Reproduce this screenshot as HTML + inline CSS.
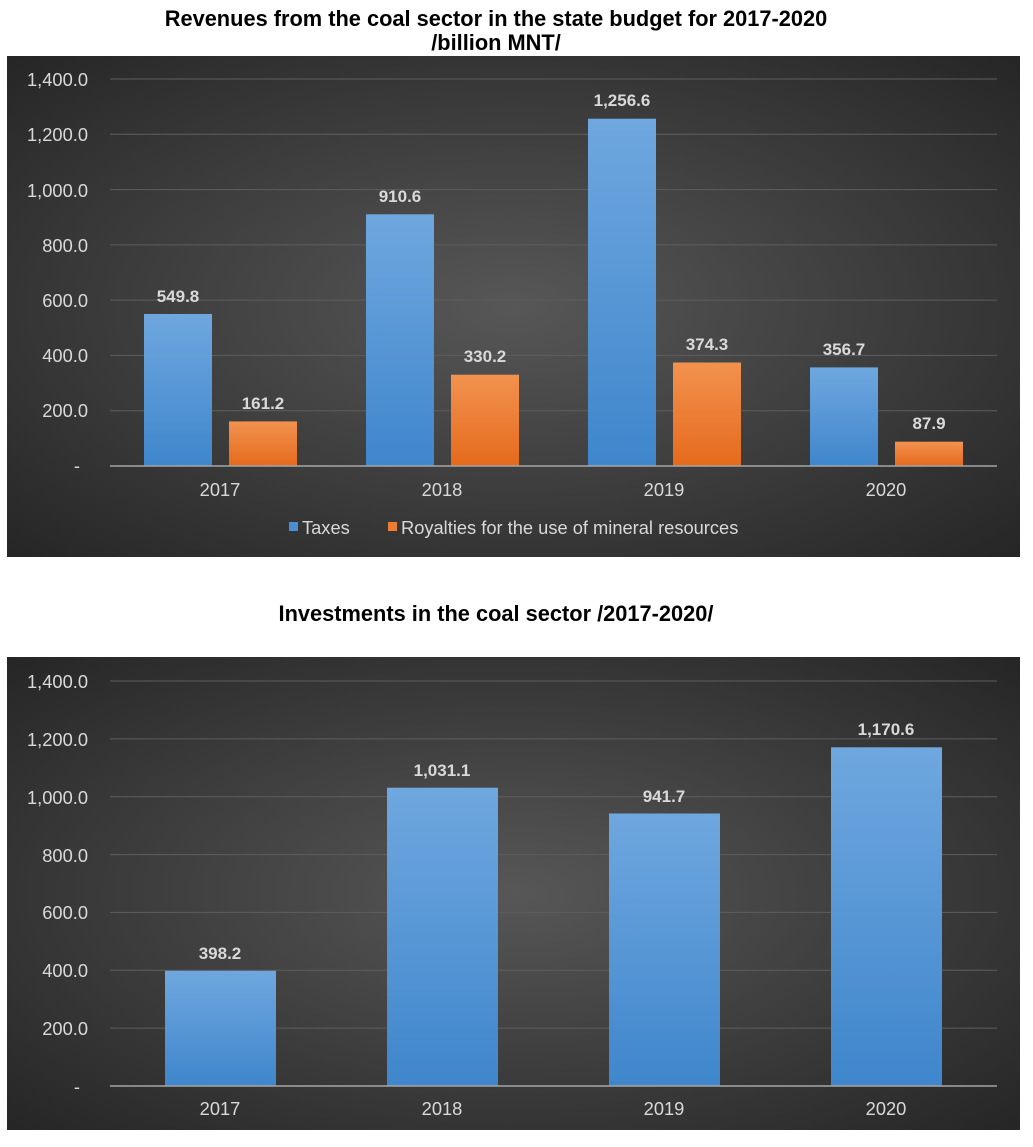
<!DOCTYPE html>
<html><head><meta charset="utf-8"><style>
html,body{margin:0;padding:0;background:#fff;}
svg{display:block;font-family:"Liberation Sans",Arial,sans-serif;}
</style></head><body>
<svg width="1033" height="1147" viewBox="0 0 1033 1147" xmlns="http://www.w3.org/2000/svg">
<defs>
<radialGradient id="bg" cx="0.5" cy="0.5" r="0.7">
<stop offset="0" stop-color="#575757"/><stop offset="1" stop-color="#262626"/>
</radialGradient>
<linearGradient id="blue" x1="0" y1="0" x2="0" y2="1">
<stop offset="0" stop-color="#6fa7df"/><stop offset="1" stop-color="#3f86cc"/>
</linearGradient>
<linearGradient id="orange" x1="0" y1="0" x2="0" y2="1">
<stop offset="0" stop-color="#f2924f"/><stop offset="1" stop-color="#e56a1c"/>
</linearGradient>
</defs>
<rect width="1033" height="1147" fill="#fff"/>
<text x="496" y="26" text-anchor="middle" font-size="21.8" font-weight="bold" fill="#000">Revenues from the coal sector in the state budget for 2017-2020</text>
<text x="496" y="50" text-anchor="middle" font-size="21.8" font-weight="bold" fill="#000">/billion MNT/</text>
<rect x="7" y="56" width="1013" height="501" fill="url(#bg)"/>
<g stroke="#5e5e5e" stroke-width="1">
<line x1="110" y1="79" x2="997" y2="79"/><line x1="110" y1="134.3" x2="997" y2="134.3"/>
<line x1="110" y1="189.6" x2="997" y2="189.6"/><line x1="110" y1="244.9" x2="997" y2="244.9"/>
<line x1="110" y1="300.1" x2="997" y2="300.1"/><line x1="110" y1="355.4" x2="997" y2="355.4"/>
<line x1="110" y1="410.7" x2="997" y2="410.7"/>
</g>
<g fill="#d9d9d9" font-size="18.3" text-anchor="end">
<text x="88" y="86">1,400.0</text><text x="88" y="141">1,200.0</text><text x="88" y="197">1,000.0</text>
<text x="88" y="252">800.0</text><text x="88" y="307">600.0</text><text x="88" y="362">400.0</text>
<text x="88" y="417">200.0</text><text x="80" y="472">-</text>
</g>
<g>
<rect x="144" y="314" width="68" height="152" fill="url(#blue)"/>
<rect x="229" y="421.4" width="68" height="44.6" fill="url(#orange)"/>
<rect x="366" y="214.3" width="68" height="251.7" fill="url(#blue)"/>
<rect x="451" y="374.7" width="68" height="91.3" fill="url(#orange)"/>
<rect x="588" y="118.7" width="68" height="347.3" fill="url(#blue)"/>
<rect x="673" y="362.5" width="68" height="103.5" fill="url(#orange)"/>
<rect x="810" y="367.4" width="68" height="98.6" fill="url(#blue)"/>
<rect x="895" y="441.7" width="68" height="24.3" fill="url(#orange)"/>
</g>
<line x1="110" y1="466" x2="997" y2="466" stroke="#a6a6a6" stroke-width="1.5"/>
<g fill="#d9d9d9" font-size="17" font-weight="bold" text-anchor="middle">
<text x="178" y="302">549.8</text><text x="263" y="409">161.2</text>
<text x="400" y="202">910.6</text><text x="485" y="362">330.2</text>
<text x="622" y="106">1,256.6</text><text x="707" y="350">374.3</text>
<text x="844" y="355">356.7</text><text x="929" y="429">87.9</text>
</g>
<g fill="#d9d9d9" font-size="18.3" text-anchor="middle">
<text x="220" y="496">2017</text><text x="442" y="496">2018</text><text x="664" y="496">2019</text><text x="886" y="496">2020</text>
</g>
<rect x="289" y="522" width="9" height="9" fill="#4a8fd5"/>
<text x="302" y="534" fill="#d9d9d9" font-size="18.3">Taxes</text>
<rect x="388" y="522" width="9" height="9" fill="#ed7d31"/>
<text x="401" y="534" fill="#d9d9d9" font-size="18.3">Royalties for the use of mineral resources</text>

<text x="496" y="621" text-anchor="middle" font-size="21.8" font-weight="bold" fill="#000">Investments in the coal sector /2017-2020/</text>
<rect x="7" y="657" width="1013" height="473" fill="url(#bg)"/>
<g stroke="#5e5e5e" stroke-width="1">
<line x1="110" y1="681" x2="997" y2="681"/><line x1="110" y1="738.9" x2="997" y2="738.9"/>
<line x1="110" y1="796.7" x2="997" y2="796.7"/><line x1="110" y1="854.6" x2="997" y2="854.6"/>
<line x1="110" y1="912.4" x2="997" y2="912.4"/><line x1="110" y1="970.3" x2="997" y2="970.3"/>
<line x1="110" y1="1028.1" x2="997" y2="1028.1"/>
</g>
<g fill="#d9d9d9" font-size="18.3" text-anchor="end">
<text x="88" y="688">1,400.0</text><text x="88" y="746">1,200.0</text><text x="88" y="804">1,000.0</text>
<text x="88" y="862">800.0</text><text x="88" y="919">600.0</text><text x="88" y="977">400.0</text>
<text x="88" y="1035">200.0</text><text x="80" y="1093">-</text>
</g>
<g fill="url(#blue)">
<rect x="165" y="970.8" width="111" height="115.2"/>
<rect x="387" y="787.7" width="111" height="298.3"/>
<rect x="609" y="813.5" width="111" height="272.5"/>
<rect x="831" y="747.3" width="111" height="338.7"/>
</g>
<line x1="110" y1="1086" x2="997" y2="1086" stroke="#a6a6a6" stroke-width="1.5"/>
<g fill="#d9d9d9" font-size="17" font-weight="bold" text-anchor="middle">
<text x="220" y="959">398.2</text><text x="442" y="776">1,031.1</text>
<text x="664" y="802">941.7</text><text x="886" y="735">1,170.6</text>
</g>
<g fill="#d9d9d9" font-size="18.3" text-anchor="middle">
<text x="220" y="1115">2017</text><text x="442" y="1115">2018</text><text x="664" y="1115">2019</text><text x="886" y="1115">2020</text>
</g>
</svg>
</body></html>
